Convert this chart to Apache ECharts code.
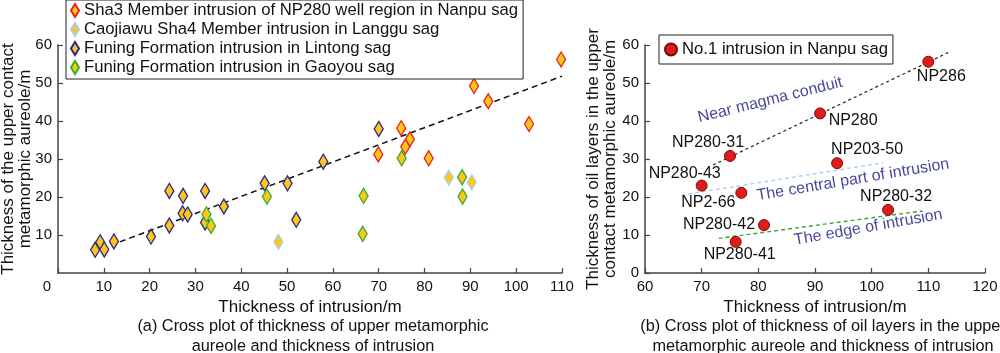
<!DOCTYPE html>
<html>
<head>
<meta charset="utf-8">
<script src="https://cdn.jsdelivr.net/npm/echarts@6/dist/echarts.min.js"></script>
<style>
  html, body { margin: 0; padding: 0; background: #fff; }
  #main { width: 1000px; height: 353px; }
</style>
</head>
<body>
<div id="main"></div>
<script>
// (a) left plot: [thickness of intrusion, thickness of aureole]
const sha3Nanpu = [[90.8, 49.2], [93.9, 45.2], [102.8, 39.2], [74.9, 38.1], [76.8, 35.2], [75.8, 33.2], [69.9, 31.2], [80.9, 30.2], [109.8, 56.2]];
const sha4Langgu = [[48.1, 8.2], [85.3, 25.1], [90.3, 23.9]];
const funingLintong = [[8.1, 6.1], [9.2, 8.1], [10.1, 6.2], [12.2, 8.3], [20.3, 9.6], [24.3, 12.5], [24.3, 21.6], [27.3, 20.3], [27.2, 15.7], [28.3, 15.4], [32.1, 21.6], [32.1, 13.3], [36.2, 17.5], [45.1, 23.6], [50.1, 23.6], [52, 14], [57.9, 29.3], [70, 37.9]];
const funingGaoyou = [[32.4, 15.4], [33.4, 12.4], [45.6, 20.1], [75, 30.2], [66.7, 20.3], [88.2, 25.2], [88.3, 20.1], [66.5, 10.3]];
const trendA = [[13.5, 8.2], [110, 51.8]];

const seriesNamesA = [
  'Sha3 Member intrusion of NP280 well region in Nanpu sag',
  'Caojiawu Sha4 Member intrusion in Langgu sag',
  'Funing Formation intrusion in Lintong sag',
  'Funing Formation intrusion in Gaoyou sag'
];

// (b) right plot
const wellNames = ['NP286', 'NP280', 'NP280-31', 'NP203-50', 'NP280-43', 'NP2-66', 'NP280-32', 'NP280-42', 'NP280-41'];
const wellX = [110, 90.9, 75, 93.9, 70, 77, 102.9, 81, 76];
const wellY = [55.6, 42.0, 30.8, 28.9, 23.0, 21.1, 16.6, 12.6, 8.2];
const conduitLine = [[72, 28.4], [113.5, 58.0]];
const centralLine = [[66.4, 20.5], [102, 29.0]];
const edgeLine = [[73, 9.1], [108.8, 16.3]];
const zoneNames = ['Near magma conduit', 'The central part of intrusion', 'The edge of intrusion'];
const zoneAt = [[82.1, 45.5], [96.7, 24.5], [99.4, 12.0]];

// label placement (offsets in px from the point)
const wellLabelOffset = {
  'NP286': [13, 15], 'NP280': [33, 7], 'NP280-31': [-22, -13], 'NP203-50': [30, -14],
  'NP280-43': [-17, -12], 'NP2-66': [-33, 10], 'NP280-32': [8, -13], 'NP280-42': [-45, -1], 'NP280-41': [4, 13]
};
const zoneRotate = [14, 9.5, 10];

const FONT = 'Liberation Sans, Arial, sans-serif';
const gold = '#FFC61A';
const borderColors = ['#E8261E', '#A9CFF0', '#2B2B8A', '#3AAE32'];

const chart = echarts.init(document.getElementById('main'));

function axisCommon() {
  return {
    axisLine: { show: true, lineStyle: { color: '#444', width: 1.5 } },
    axisTick: { show: true, inside: true, length: 5, lineStyle: { color: '#444', width: 1.2 } },
    splitLine: { show: false },
    axisLabel: { color: '#111', fontSize: 15, fontFamily: FONT, margin: 6 },
    nameTextStyle: { color: '#111', fontSize: 17, fontFamily: FONT, lineHeight: 17 }
  };
}

const seriesA = [sha3Nanpu, sha4Langgu, funingLintong, funingGaoyou].map((d, i) => ({
  name: seriesNamesA[i],
  type: 'scatter',
  xAxisIndex: 0, yAxisIndex: 0,
  data: d,
  symbol: 'diamond',
  symbolSize: [9, 15],
  itemStyle: { color: gold, borderColor: borderColors[i], borderWidth: 1.4, opacity: 1 },
  z: 3
}));

const option = {
  backgroundColor: '#fff',
  animation: false,
  textStyle: { fontFamily: FONT },
  title: [
    {
      text: '(a) Cross plot of thickness of upper metamorphic\naureole and thickness of intrusion',
      left: 308, top: 312, textAlign: 'center',
      textStyle: { fontSize: 16.3, fontWeight: 'normal', color: '#111', lineHeight: 20, fontFamily: FONT }
    },
    {
      text: '(b) Cross plot of thickness of oil layers in the upper\nmetamorphic aureole and thickness of intrusion',
      left: 818, top: 312, textAlign: 'center',
      textStyle: { fontSize: 16.3, fontWeight: 'normal', color: '#111', lineHeight: 20, fontFamily: FONT }
    }
  ],
  legend: [
    {
      data: seriesNamesA,
      orient: 'vertical',
      left: 66, top: 0,
      padding: [2, 5, 3, 4],
      itemGap: 2, itemWidth: 8, itemHeight: 13, itemTextGap: 8,
      backgroundColor: '#fff', borderColor: '#222', borderWidth: 1,
      textStyle: { fontSize: 16.7, lineHeight: 15, color: '#111', fontFamily: FONT }
    },
    {
      data: ['No.1 intrusion in Nanpu sag'],
      left: 659, top: 35,
      padding: [6, 5, 6, 5],
      itemWidth: 12, itemHeight: 12, itemTextGap: 6,
      backgroundColor: '#fff', borderColor: '#222', borderWidth: 1,
      textStyle: { fontSize: 16.7, lineHeight: 14, color: '#111', fontFamily: FONT }
    }
  ],
  grid: [
    { left: 58, right: 438, top: 45, bottom: 80, outerBoundsMode: 'none', containLabel: false },
    { left: 645, right: 15, top: 45, bottom: 80, outerBoundsMode: 'none', containLabel: false }
  ],
  xAxis: [
    Object.assign(axisCommon(), {
      gridIndex: 0, type: 'value', min: 0, max: 110, interval: 10,
      name: 'Thickness of intrusion/m', nameLocation: 'middle', nameGap: 20,
      axisLabel: {
        color: '#111', fontSize: 15, fontFamily: FONT, margin: 6,
        formatter: v => v === 0 ? '{z|0}' : String(v),
        rich: { z: { fontSize: 15, fontFamily: FONT, color: '#111', padding: [0, 22, 0, 0] } }
      }
    }),
    Object.assign(axisCommon(), {
      gridIndex: 1, type: 'value', min: 60, max: 120, interval: 10,
      name: 'Thickness of intrusion/m', nameLocation: 'middle', nameGap: 20
    })
  ],
  yAxis: [
    Object.assign(axisCommon(), {
      gridIndex: 0, type: 'value', min: 0, max: 60, interval: 10,
      name: 'Thickness of the upper contact\nmetamorphic aureole/m', nameLocation: 'middle',
      nameGap: 24, nameMoveOverlap: false,
      axisLabel: { color: '#111', fontSize: 15, fontFamily: FONT, margin: 6, showMinLabel: false }
    }),
    Object.assign(axisCommon(), {
      gridIndex: 1, type: 'value', min: 0, max: 60, interval: 10,
      name: 'Thickness of oil layers in the upper\ncontact metamorphic aureole/m', nameLocation: 'middle', nameGap: 26
    })
  ],
  series: [
    {
      type: 'line', xAxisIndex: 0, yAxisIndex: 0, data: trendA,
      symbol: 'none', lineStyle: { color: '#111', width: 1.5, type: [6, 4] }, z: 2, silent: true
    },
    ...seriesA,
    {
      type: 'line', xAxisIndex: 1, yAxisIndex: 1, data: conduitLine,
      symbol: 'none', lineStyle: { color: '#222', width: 1.2, type: [3, 3] }, z: 2
    },
    {
      type: 'line', xAxisIndex: 1, yAxisIndex: 1, data: centralLine,
      symbol: 'none', lineStyle: { color: '#A8D2F2', width: 1.4, type: [4, 3] }, z: 2
    },
    {
      type: 'line', xAxisIndex: 1, yAxisIndex: 1, data: edgeLine,
      symbol: 'none', lineStyle: { color: '#35A835', width: 1.4, type: [4, 3] }, z: 2
    },
    {
      name: 'No.1 intrusion in Nanpu sag',
      type: 'scatter', xAxisIndex: 1, yAxisIndex: 1,
      symbol: 'circle', symbolSize: 11,
      itemStyle: { color: '#E01B1B', borderColor: '#7A0A0A', borderWidth: 1, opacity: 1 },
      data: wellNames.map((n, i) => ({
        name: n,
        value: [wellX[i], wellY[i]],
        label: { offset: wellLabelOffset[n] }
      })),
      label: {
        show: true, position: 'inside', formatter: p => p.name,
        color: '#111', fontSize: 16, fontFamily: FONT
      },
      z: 4
    },
    {
      type: 'scatter', xAxisIndex: 1, yAxisIndex: 1,
      symbolSize: 0, silent: true,
      data: zoneNames.map((n, i) => ({
        name: n,
        value: zoneAt[i],
        label: { rotate: zoneRotate[i] }
      })),
      label: {
        show: true, position: 'inside', formatter: p => p.name,
        color: '#15157E', fontSize: 16, fontFamily: FONT
      },
      z: 5
    }
  ]
};

chart.setOption(option);
</script>
</body>
</html>
